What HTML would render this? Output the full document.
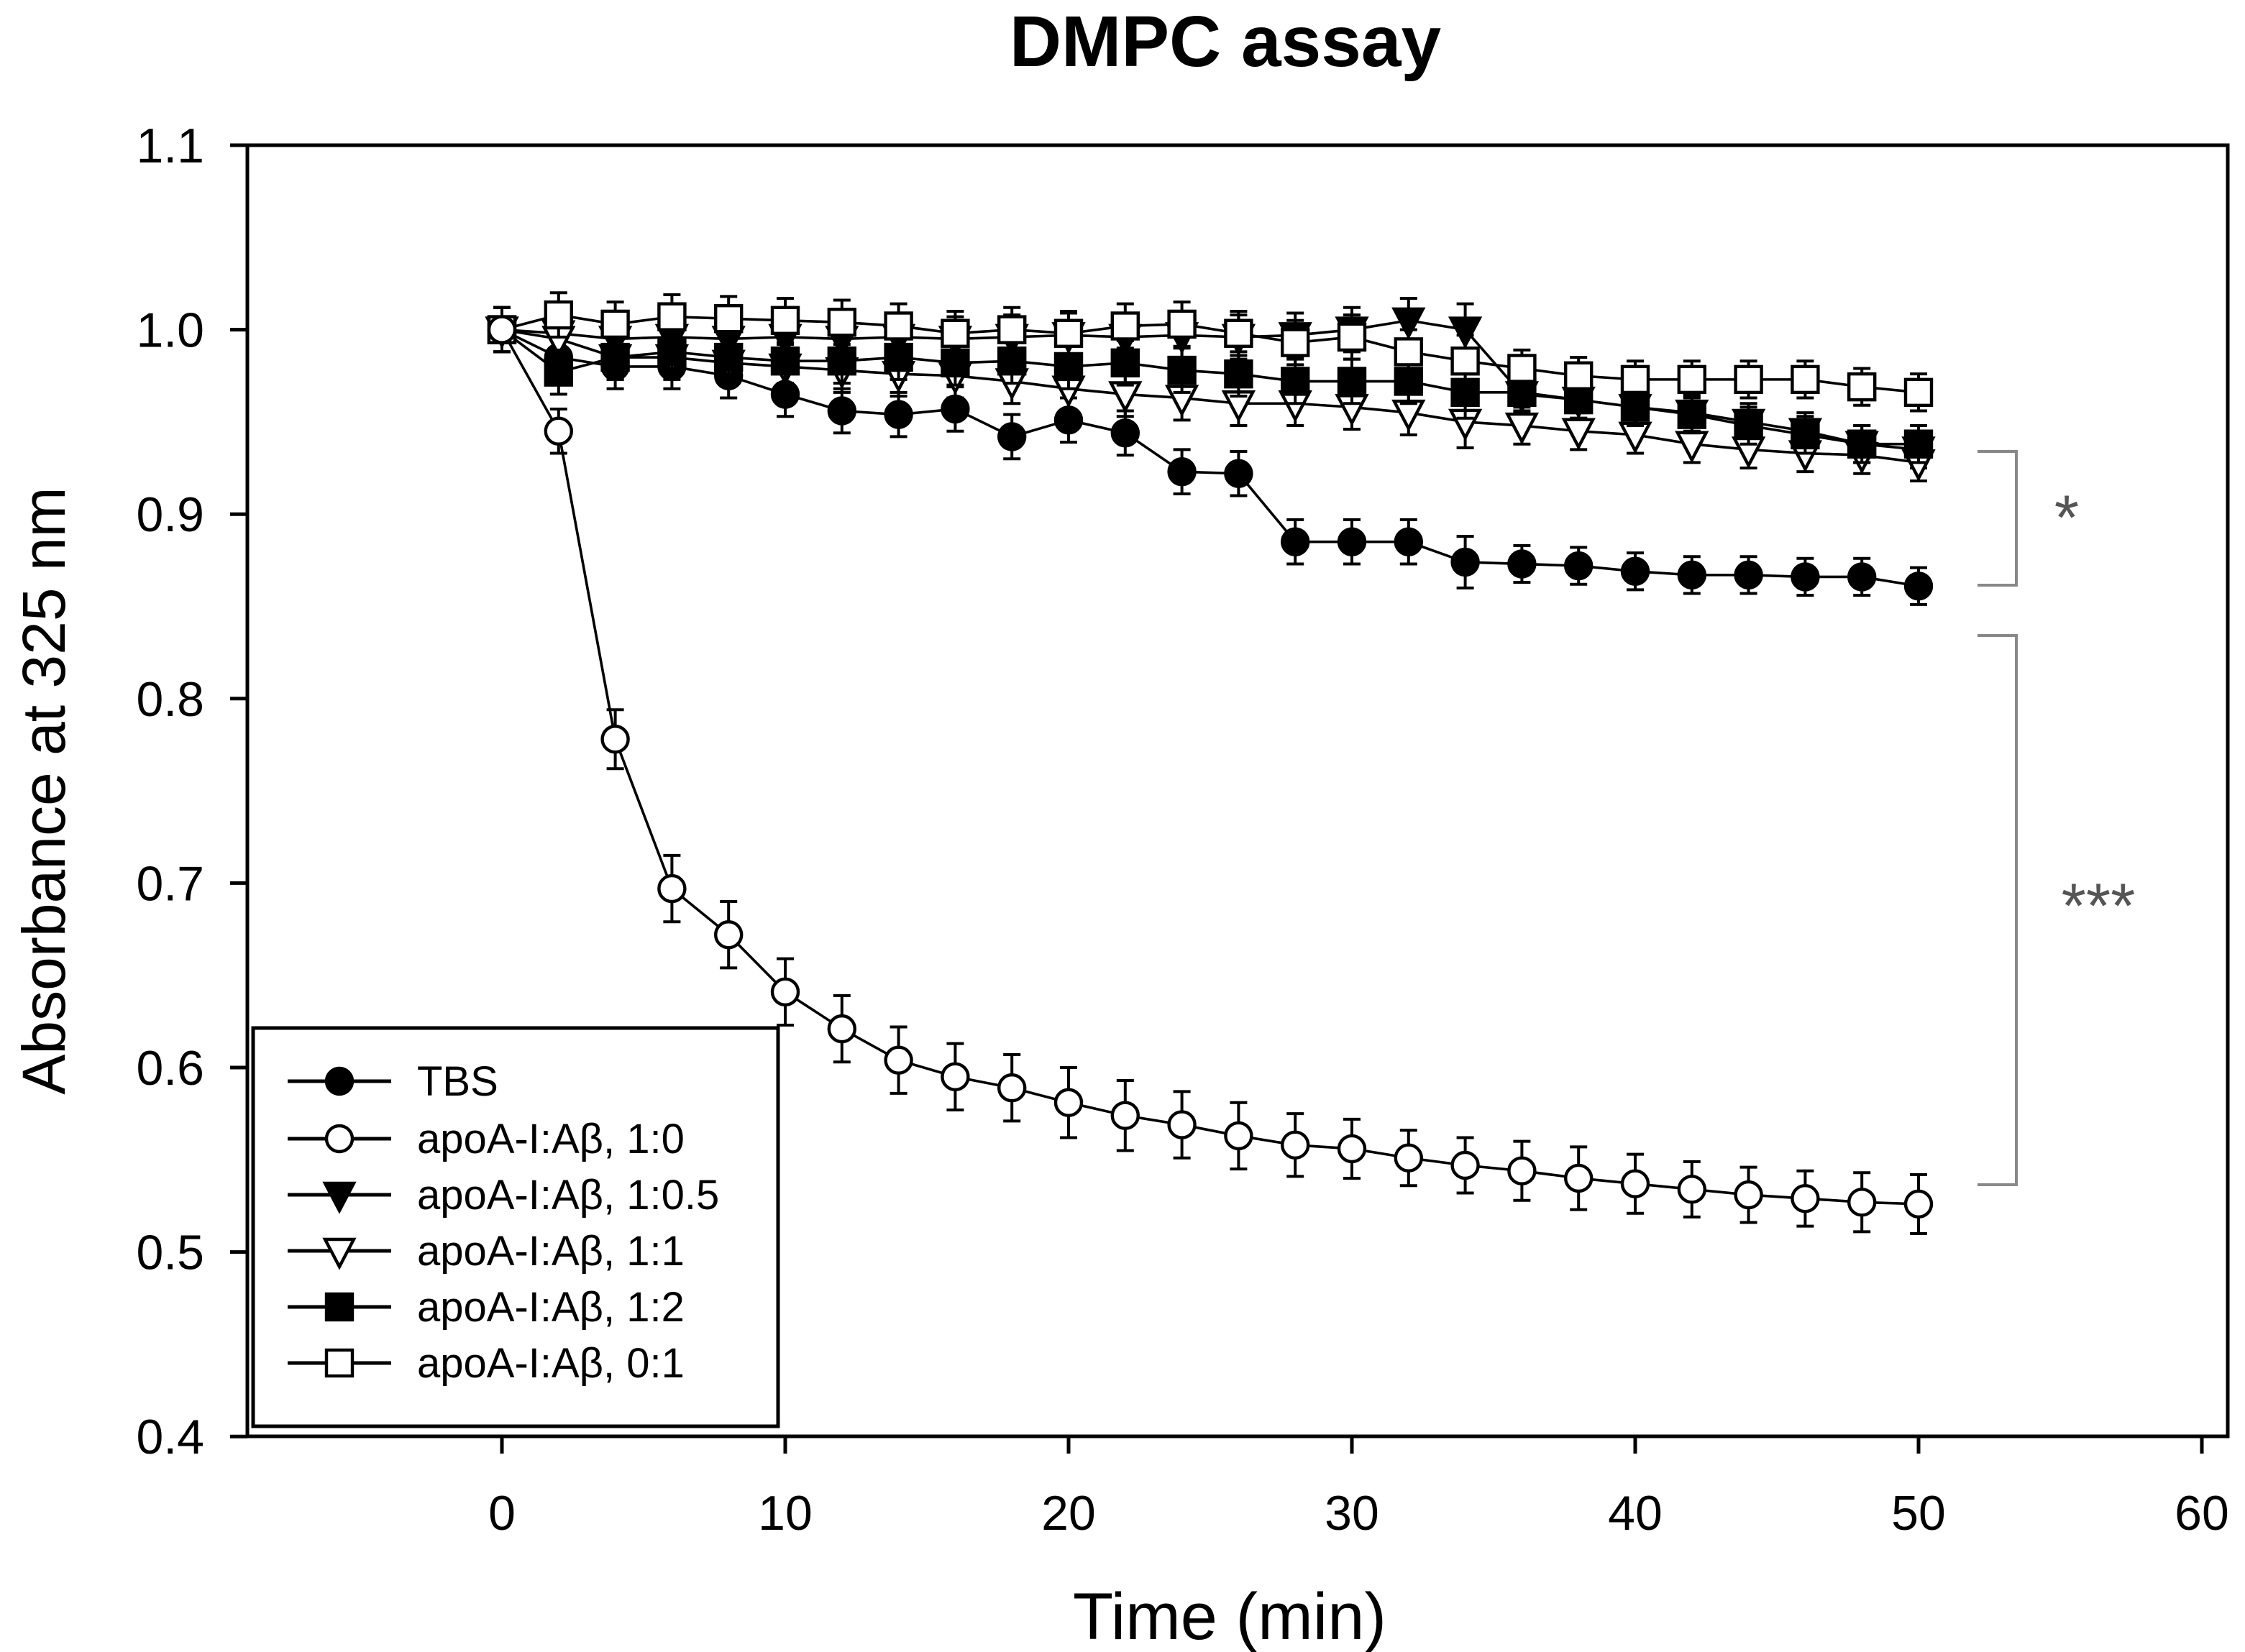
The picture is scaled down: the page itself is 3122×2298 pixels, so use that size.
<!DOCTYPE html>
<html><head><meta charset="utf-8"><style>
html,body{margin:0;padding:0;background:#fff;}
svg{display:block;}
text{font-family:"Liberation Sans",Arial,sans-serif;}
</style></head><body>
<svg id="chart" width="3122" height="2298" viewBox="0 0 1561 1149" xmlns="http://www.w3.org/2000/svg">
<text x="852" y="46" text-anchor="middle" font-size="50" font-weight="bold">DMPC assay</text>
<rect x="172" y="101" width="1377" height="898" fill="none" stroke="#000" stroke-width="2.5"/>
<g id="axes"></g>
<g id="series"></g>
<text x="855" y="1140" text-anchor="middle" font-size="46">Time (min)</text>
<text transform="translate(45,550) rotate(-90)" text-anchor="middle" font-size="42">Absorbance at 325 nm</text>
<g stroke="#888" stroke-width="2" fill="none">
<path d="M1375,314 H1402 V407 H1375"/>
<path d="M1375,442 H1402 V824 H1375"/>
</g>
<text x="1437" y="375" text-anchor="middle" font-size="44" fill="#555">*</text>
<text x="1459" y="645" text-anchor="middle" font-size="44" fill="#555">***</text>
<g id="legend">
<rect x="176" y="715" width="365" height="277" fill="#fff" stroke="#000" stroke-width="2.5"/>
</g>
</svg>
<script>
const times=[0,2,4,6,8,10,12,14,16,18,20,22,24,26,28,30,32,34,36,38,40,42,44,46,48,50];
const tbs=[1.0,0.985,0.98,0.98,0.975,0.965,0.956,0.954,0.957,0.942,0.951,0.944,0.923,0.922,0.885,0.885,0.885,0.874,0.873,0.872,0.869,0.867,0.867,0.866,0.866,0.861];
const r1_0=[1.0,0.945,0.778,0.697,0.672,0.641,0.621,0.604,0.595,0.589,0.581,0.574,0.569,0.563,0.558,0.556,0.551,0.547,0.544,0.540,0.537,0.534,0.531,0.529,0.527,0.526];
const r1_05=[1.0,0.998,0.995,0.996,0.995,0.996,0.995,0.996,0.995,0.996,0.997,0.996,0.997,0.996,0.997,1.0,1.005,1.0,0.965,0.962,0.958,0.955,0.95,0.945,0.938,0.935];
const r1_1=[1.0,0.995,0.985,0.985,0.982,0.98,0.978,0.976,0.975,0.972,0.968,0.965,0.963,0.96,0.96,0.958,0.955,0.95,0.948,0.945,0.943,0.938,0.935,0.933,0.932,0.928];
const r1_2=[1.0,0.977,0.985,0.988,0.985,0.983,0.983,0.985,0.982,0.983,0.98,0.982,0.978,0.976,0.972,0.972,0.972,0.966,0.966,0.962,0.958,0.954,0.948,0.943,0.938,0.938];
const r0_1=[1.0,1.008,1.003,1.007,1.006,1.005,1.004,1.002,0.998,1.0,0.998,1.002,1.003,0.998,0.993,0.996,0.988,0.983,0.979,0.975,0.973,0.973,0.973,0.973,0.969,0.966];
const errSmall=[0.012,0.012,0.012,0.012,0.012,0.012,0.012,0.012,0.012,0.012,0.012,0.012,0.012,0.012,0.012,0.012,0.012,0.014,0.01,0.01,0.01,0.01,0.01,0.01,0.01,0.01];
const errOpen=[0.012,0.012,0.016,0.018,0.018,0.018,0.018,0.018,0.018,0.018,0.019,0.019,0.018,0.018,0.017,0.016,0.015,0.015,0.016,0.017,0.016,0.015,0.015,0.015,0.016,0.016];
const yTicks=[0.4,0.5,0.6,0.7,0.8,0.9,1.0,1.1];
const xTicks=[0,10,20,30,40,50,60];
const names=["TBS","apoA-I:A\u03b2, 1:0","apoA-I:A\u03b2, 1:0.5","apoA-I:A\u03b2, 1:1","apoA-I:A\u03b2, 1:2","apoA-I:A\u03b2, 0:1"];

const NS="http://www.w3.org/2000/svg";
const X=t=>349+t*19.7, Y=v=>101+(1.1-v)*1283;
function mk(tag,attrs,parent){const e=document.createElementNS(NS,tag);for(const k in attrs)e.setAttribute(k,attrs[k]);parent.appendChild(e);return e;}
const axes=document.getElementById('axes');
yTicks.forEach(v=>{
 const l=mk('line',{x1:160,x2:172,y1:Y(v),y2:Y(v),stroke:'#000','stroke-width':2.5},axes);
 
 
 const t=mk('text',{x:142,y:Y(v)+12,'text-anchor':'end','font-size':34},axes);
 t.textContent=v.toFixed(1);
 
 
});
xTicks.forEach(v=>{
 const l=mk('line',{x1:X(v),x2:X(v),y1:999,y2:1011,stroke:'#000','stroke-width':2.5},axes);
 
 
 const t=mk('text',{x:X(v),y:1064,'text-anchor':'middle','font-size':34},axes);
 t.textContent=String(v);
 
 
});
function marker(kind,x,y,parent){
 const s=9;let e;
 if(kind==='circle'||kind==='ocircle') e=mk('circle',{cx:x,cy:y,r:9},parent);
 else if(kind==='tri'||kind==='otri') e=mk('path',{d:`M${x-10},${y-8} L${x+10},${y-8} L${x},${y+11} Z`},parent);
 else e=mk('rect',{x:x-s,y:y-s,width:2*s,height:2*s},parent);
 const filled=(kind==='circle'||kind==='tri'||kind==='square');
 e.setAttribute('fill',filled?'#000':'#fff');
 e.setAttribute('stroke','#000');
 e.setAttribute('stroke-width',2.2);
 return e;
}
const seriesDefs=[[tbs,'circle',errSmall,'tbs'],[r1_05,'tri',errSmall,'ratio-1-0.5'],[r1_1,'otri',errSmall,'ratio-1-1'],[r1_2,'square',errSmall,'ratio-1-2'],[r0_1,'osquare',errSmall,'ratio-0-1'],[r1_0,'ocircle',errOpen,'ratio-1-0']];
const sg=document.getElementById('series');
seriesDefs.forEach(([vals,kind,err,nm])=>{
 const g=mk('g',{},sg);
 
 
 const pts=times.map((t,i)=>X(t)+','+Y(vals[i])).join(' ');
 mk('polyline',{points:pts,fill:'none',stroke:'#000','stroke-width':1.8},g);
 times.forEach((t,i)=>{
  const x=X(t),y1=Y(vals[i]+err[i]),y2=Y(vals[i]-err[i]);
  mk('path',{d:`M${x},${y1}V${y2}M${x-6},${y1}H${x+6}M${x-6},${y2}H${x+6}`,stroke:'#000','stroke-width':2,fill:'none'},g);
 });
 times.forEach((t,i)=>{
  const m=marker(kind,X(t),Y(vals[i]),g);
  
  
 });
});
const lg=document.getElementById('legend');
const kinds=['circle','ocircle','tri','otri','square','osquare'];
const ly=[752,792,831,870,909,948];
names.forEach((n,i)=>{
 const g=mk('g',{},lg);
 
 
 mk('line',{x1:200,x2:272,y1:ly[i],y2:ly[i],stroke:'#000','stroke-width':2.5},g);
 marker(kinds[i],236,ly[i],g);
 const t=mk('text',{x:290,y:ly[i]+10,'font-size':29},g);
 t.textContent=n;
});
</script>
</body></html>
